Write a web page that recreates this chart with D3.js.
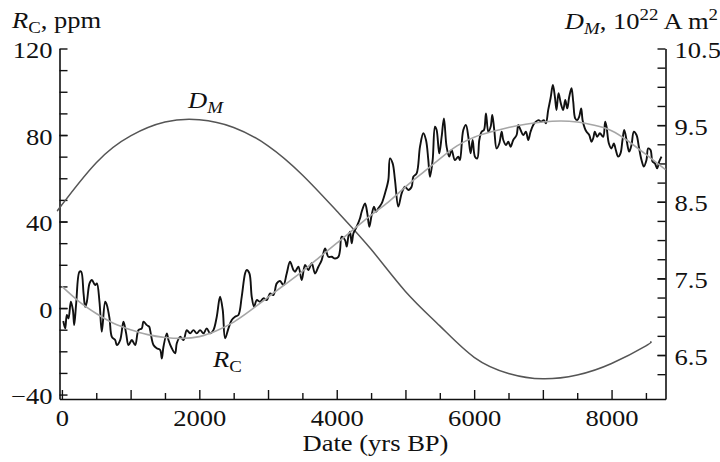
<!DOCTYPE html>
<html>
<head>
<meta charset="utf-8">
<script src="https://cdn.jsdelivr.net/npm/d3@7"></script>
<style>
body { margin: 0; background: #fff; }
svg text { font-family: "Liberation Serif", "Times New Roman", serif; fill: #111; }
</style>
</head>
<body>
<div id="chart"></div>
<script>
// R_C record (ppm) against date (yrs BP)
var rcDates = [
    20, 48, 72, 96, 130, 160, 179, 208, 256, 281,
    315, 339, 363, 402, 436, 484, 509, 547, 581, 630,
    654, 693, 727, 775, 799, 848, 896, 935, 969, 1018,
    1066, 1115, 1163, 1187, 1236, 1270, 1284, 1333, 1381, 1430,
    1454, 1478, 1527, 1551, 1599, 1648, 1672, 1721, 1769, 1818,
    1866, 1915, 1963, 2011, 2060, 2108, 2157, 2205, 2254, 2302,
    2341, 2375, 2424, 2472, 2520, 2569, 2617, 2666, 2690, 2729,
    2763, 2797, 2836, 2884, 2933, 2981, 3030, 3078, 3127, 3175,
    3224, 3272, 3320, 3369, 3393, 3442, 3490, 3539, 3587, 3636,
    3684, 3733, 3781, 3830, 3878, 3927, 3975, 4024, 4048, 4072,
    4121, 4145, 4169, 4193, 4218, 4242, 4266, 4290, 4339, 4363,
    4412, 4445, 4475, 4508, 4542, 4572, 4605, 4654, 4702, 4751,
    4775, 4814, 4848, 4896, 4945, 4993, 5042, 5090, 5115, 5163,
    5212, 5260, 5299, 5333, 5357, 5396, 5430, 5454, 5492, 5527,
    5560, 5599, 5638, 5672, 5720, 5769, 5793, 5842, 5881, 5915,
    5949, 5978, 6012, 6046, 6075, 6109, 6143, 6172, 6206, 6240,
    6264, 6293, 6327, 6366, 6400, 6424, 6463, 6497, 6530, 6569,
    6618, 6642, 6676, 6715, 6753, 6787, 6821, 6860, 6899, 6938,
    6976, 7015, 7044, 7078, 7112, 7146, 7175, 7199, 7228, 7262,
    7296, 7326, 7355, 7384, 7417, 7442, 7471, 7500, 7529, 7558,
    7578, 7611, 7636, 7675, 7708, 7733, 7757, 7791, 7830, 7878,
    7907, 7927, 7961, 7999, 8033, 8062, 8096, 8130, 8159, 8184,
    8218, 8256, 8290, 8324, 8363, 8397, 8436, 8470, 8508, 8533,
    8567, 8596, 8630, 8664, 8693, 8727
];
var rcValues = [
    -6, -9.4, -3.2, -4.8, 2.9, -0.9, -7.9, 2.2, 16.8, 16.8,
    6.8, 0.6, 2.9, 11.4, 13.0, 10.6, 11.4, 2.9, -10.9, 2.9,
    1.4, -4.8, -13.3, -14.8, -17.1, -14.8, -6.3, -11.7, -17.1, -14.8,
    -17.1, -10.2, -9.4, -6.3, -7.9, -8.6, -10.2, -17.1, -18.6, -19.4,
    -23.3, -17.9, -11.7, -14.8, -18.6, -20.9, -16.3, -13.3, -14.8, -10.2,
    -11.7, -10.2, -11.7, -10.2, -11.7, -9.4, -11.7, -10.2, -4.0, 5.2,
    -0.9, -14.0, -9.4, -5.5, -4.0, -3.2, 5.2, 16.0, 17.6, 16.0,
    5.2, 0.6, 3.7, 2.9, 4.5, 3.7, 6.8, 6.0, 11.4, 12.5,
    10.6, 16.0, 21.4, 17.6, 16.8, 19.1, 12.9, 19.9, 17.6, 20.7,
    16.0, 19.1, 22.2, 27.6, 23.7, 23.7, 22.9, 23.7, 26.8, 33.0,
    31.4, 28.4, 33.0, 35.3, 29.9, 34.5, 36.1, 37.6, 41.5, 44.5,
    48.4, 43.8, 37.6, 43.0, 46.9, 44.5, 46.1, 48.4, 53.0, 59.2,
    69.2, 66.9, 59.2, 46.9, 53.0, 56.1, 54.6, 56.1, 60.7, 62.3,
    74.6, 80.8, 77.7, 68.4, 60.7, 68.4, 83.8, 82.3, 71.5, 79.2,
    87.7, 74.6, 70.0, 73.1, 68.4, 70.0, 68.4, 82.3, 84.6, 79.2,
    71.5, 77.7, 70.0, 69.2, 77.7, 81.5, 82.3, 90.0, 81.5, 83.8,
    89.3, 82.3, 73.8, 76.1, 81.5, 77.7, 75.4, 76.9, 74.6, 77.7,
    80.0, 84.6, 82.3, 80.0, 81.5, 77.7, 81.5, 84.6, 86.2, 86.9,
    86.2, 86.9, 85.4, 91.6, 97.0, 103.1, 97.7, 91.6, 99.3, 94.6,
    91.6, 96.2, 92.3, 97.7, 101.6, 95.4, 87.7, 86.9, 88.5, 92.3,
    86.9, 83.1, 81.5, 80.0, 76.9, 78.5, 81.5, 79.2, 80.8, 79.2,
    86.2, 83.8, 76.1, 73.8, 76.1, 73.1, 70.0, 71.5, 77.7, 82.3,
    77.7, 72.3, 75.4, 81.5, 80.0, 74.6, 68.4, 65.4, 68.4, 73.8,
    73.1, 67.7, 66.9, 64.6, 67.7, 70.0
];

// smoothed R_C (gray)
var fitDates = [0, 250, 500, 750, 1000, 1250, 1500, 1750, 2000, 2250, 2500, 2750, 3000, 3250, 3500,
    3750, 4000, 4250, 4500, 4750, 5000, 5250, 5500, 5750, 6000, 6250, 6500, 6750, 7000, 7250,
    7500, 7750, 8000, 8250, 8500, 8785];
var fitValues = [10, 3, -2.5, -7, -10, -12.3, -13.6, -14, -13.2, -10.5, -6.5, -1, 5, 11, 17,
    23.5, 30, 36.5, 43, 49, 56, 62.5, 69, 75, 79, 81.5, 83.5, 85, 86, 86.5,
    86, 84.5, 82, 77, 71, 64];

// dipole moment D_M (10^22 A m^2)
var dmDates = [-35, 0, 500, 1000, 1500, 2000, 2500, 3000, 3500, 4000, 4500, 5000, 5500, 6000, 6500,
    7000, 7500, 8000, 8500, 8560];
var dmValues = [8.42, 8.46, 9.01, 9.36, 9.54, 9.57, 9.47, 9.23, 8.85, 8.38, 7.88, 7.33, 6.88, 6.47, 6.26,
    6.19, 6.24, 6.39, 6.62, 6.67];

var dateTicks = [0, 2000, 4000, 6000, 8000];
var leftTicks = [-40, 0, 40, 80, 120];
var rightTicks = [6.5, 7.5, 8.5, 9.5, 10.5];

var svg = d3.select("#chart")
    .append("svg")
    .attr("width", 720)
    .attr("height", 462);

var x = d3.scaleLinear().domain([-35, 8785]).range([59.5, 665.5]);
var yL = d3.scaleLinear().domain([-42.05, 120]).range([399, 48.5]);
var yR = d3.scaleLinear().domain([5.926, 10.5]).range([399, 48.5]);

var fontSize = 22.5;
var subSize = 16;
var stretchX = 1.18; // the source figure text is wider than plain Times

function stretch(sel) {
    sel.each(function () {
        var t = d3.select(this);
        var x0 = +t.attr("x") || 0;
        t.attr("transform", "translate(" + x0 + ",0) scale(" + stretchX + ",1) translate(" + (-x0) + ",0)");
    });
}

function styleAxis(g) {
    g.attr("font-family", null).attr("font-size", null);
    g.selectAll("line").attr("stroke", "#111").attr("stroke-width", 1.4);
    g.selectAll("path").attr("stroke", "#111").attr("stroke-width", 1.6);
    g.selectAll("text").attr("font-size", fontSize).attr("fill", "#111").call(stretch);
}

function minus(d) {
    return d < 0 ? "\u2212" + Math.abs(d) : String(d);
}

// minor ticks first
svg.append("g")
    .attr("transform", "translate(0,399)")
    .call(d3.axisBottom(x).tickValues(d3.range(500, 8785, 1000)).tickSizeInner(-6).tickSizeOuter(0).tickFormat(""))
    .call(styleAxis)
    .select(".domain").remove();
svg.append("g")
    .attr("transform", "translate(59.5,0)")
    .call(d3.axisLeft(yL).tickValues(d3.range(-30, 120, 10)).tickSizeInner(-8).tickSizeOuter(0).tickFormat(""))
    .call(styleAxis)
    .select(".domain").remove();
svg.append("g")
    .attr("transform", "translate(665.5,0)")
    .call(d3.axisRight(yR).tickValues(d3.range(6.25, 10.5, 0.25)).tickSizeInner(-8).tickSizeOuter(0).tickFormat(""))
    .call(styleAxis)
    .select(".domain").remove();

// main axes
svg.append("g")
    .attr("transform", "translate(0,399)")
    .call(d3.axisBottom(x).tickValues(d3.range(0, 8785, 1000)).tickSizeInner(-9).tickSizeOuter(0).tickPadding(11)
        .tickFormat(function (d) { return dateTicks.indexOf(d) >= 0 ? d : ""; }))
    .call(styleAxis);

svg.append("g")
    .attr("transform", "translate(59.5,0)")
    .call(d3.axisLeft(yL).tickValues(leftTicks).tickSizeInner(-8).tickSizeOuter(0).tickPadding(7).tickFormat(minus))
    .call(styleAxis)
    .selectAll("text").attr("dy", "0.4em");

svg.append("g")
    .attr("transform", "translate(665.5,0)")
    .call(d3.axisRight(yR).tickValues(rightTicks).tickSizeInner(-8).tickSizeOuter(0).tickPadding(9)
        .tickFormat(d3.format(".1f")))
    .call(styleAxis)
    .selectAll("text").attr("dy", "0.4em");

// curves
var dmLine = d3.line()
    .x(function (d) { return x(d[0]); })
    .y(function (d) { return yR(d[1]); })
    .curve(d3.curveNatural);
var fitLine = d3.line()
    .x(function (d) { return x(d[0]); })
    .y(function (d) { return yL(d[1]); })
    .curve(d3.curveNatural);
var rcLine = d3.line()
    .x(function (d) { return x(d[0]); })
    .y(function (d) { return yL(d[1]); })
    .curve(d3.curveCatmullRom.alpha(0.5));

svg.append("path")
    .datum(d3.zip(dmDates, dmValues))
    .attr("d", dmLine)
    .attr("fill", "none")
    .attr("stroke", "#555")
    .attr("stroke-width", 1.5);

svg.append("path")
    .datum(d3.zip(rcDates, rcValues))
    .attr("d", rcLine)
    .attr("fill", "none")
    .attr("stroke", "#111")
    .attr("stroke-width", 1.9)
    .attr("stroke-linejoin", "round");

svg.append("path")
    .datum(d3.zip(fitDates, fitValues))
    .attr("d", fitLine)
    .attr("fill", "none")
    .attr("stroke", "#a6a6a6")
    .attr("stroke-width", 1.6);

// axis titles
var t1 = svg.append("text").attr("x", 12).attr("y", 28).attr("font-size", fontSize);
t1.append("tspan").attr("font-style", "italic").text("R");
t1.append("tspan").attr("font-size", subSize).attr("dy", 5).text("C");
t1.append("tspan").attr("dy", -5).text(", ppm");

var t2 = svg.append("text").attr("x", 718).attr("y", 29).attr("text-anchor", "end").attr("font-size", fontSize);
t2.append("tspan").attr("font-style", "italic").text("D");
t2.append("tspan").attr("font-style", "italic").attr("font-size", subSize).attr("dy", 5).text("M");
t2.append("tspan").attr("dy", -5).text(", 10");
t2.append("tspan").attr("font-size", subSize).attr("dy", -9).text("22");
t2.append("tspan").attr("dy", 9).text(" A m");
t2.append("tspan").attr("font-size", subSize).attr("dy", -9).text("2");

var t3 = svg.append("text")
    .attr("x", 375.5)
    .attr("y", 451)
    .attr("text-anchor", "middle")
    .attr("font-size", fontSize)
    .text("Date (yrs BP)");

// curve labels
var l1 = svg.append("text").attr("x", 188).attr("y", 108).attr("font-size", fontSize);
l1.append("tspan").attr("font-style", "italic").text("D");
l1.append("tspan").attr("font-style", "italic").attr("font-size", subSize).attr("dy", 5).text("M");

var l2 = svg.append("text").attr("x", 213).attr("y", 367).attr("font-size", fontSize);
l2.append("tspan").attr("font-style", "italic").text("R");
l2.append("tspan").attr("font-size", subSize).attr("dy", 5).text("C");

[t1, t2, t3, l1, l2].forEach(function (t) { stretch(t); });
</script>
</body>
</html>
